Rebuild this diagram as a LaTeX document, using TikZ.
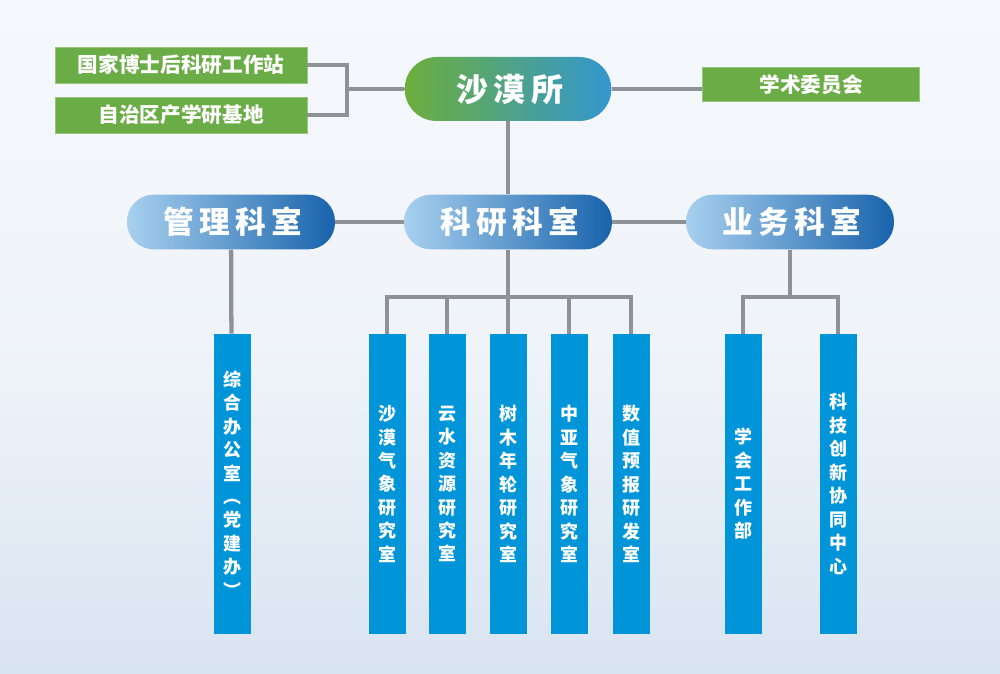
\documentclass[tikz,border=0pt]{standalone}
\usepackage{fontspec}
\usepackage{xcolor}
\usepackage{tikz}
\usetikzlibrary{positioning,calc}
\newfontfamily\cjk{Noto Sans CJK SC}
\newfontfamily\cjkwide{Noto Sans CJK SC}[LetterSpace=18]
\definecolor{linkgray}{HTML}{8E9296}
\definecolor{cGreen}{HTML}{6AAC45}
\definecolor{cHeadL}{HTML}{6DAE3C}
\definecolor{cHeadR}{HTML}{3397CF}
\definecolor{cDeptL}{HTML}{A8D0EF}
\definecolor{cDeptR}{HTML}{1863AC}
\definecolor{cLeaf}{HTML}{0095D8}
\definecolor{bgTop}{HTML}{F5F8FC}
\definecolor{bgBot}{HTML}{D9E4F1}

\begin{document}
\begin{tikzpicture}[x=0.75pt,y=-0.75pt,
  link/.style={draw=linkgray,line width=3.2pt},
  head/.style={rounded corners=24pt,left color=cHeadL,right color=cHeadR,minimum width=155pt,minimum height=48pt,text=white,font=\cjkwide\fontsize{24}{24}\selectfont\bfseries},
  dept/.style={rounded corners=20pt,left color=cDeptL,right color=cDeptR,minimum width=156pt,minimum height=41pt,text=white,font=\cjkwide\fontsize{23}{23}\selectfont\bfseries},
  base/.style={fill=cGreen,draw=cGreen!70!white,line width=0.6pt,minimum height=27pt,text=white,font=\cjk\fontsize{15.5}{15.5}\selectfont\bfseries},
  leaf/.style={fill=cLeaf,minimum width=27.75pt,minimum height=225pt,inner sep=0pt,text=white,align=center,font=\cjk\fontsize{13.5}{17.6}\selectfont\bfseries}]
  % background
  \shade[top color=bgTop,bottom color=bgBot,middle color=white!60!bgBot] (0,0) rectangle (1000,674);
  \useasboundingbox (0,0) rectangle (1000,674);

  % top level
  \node[head] (desert) at (508,89) {\hspace{3pt}沙漠所};
  \node[base,minimum width=189pt] (postdoc) at (181,65) {国家博士后科研工作站};
  \node[base,minimum width=189pt] (platform) at (181,115) {自治区产学研基地};
  \node[base,minimum width=163pt,minimum height=26pt] (academic) at (811,84.5) {学术委员会};
  \coordinate (jL) at (347,89);
  \draw[link] (postdoc.east) -| (jL);
  \draw[link] (platform.east) -| (jL);
  \draw[link] (jL) -- (desert.west);
  \draw[link] (desert.east) -- (desert.east -| academic.west);

  % departments
  \node[dept] (mgmt) at (231,222) {\hspace{3pt}管理科室};
  \node[dept] (rd) at (508,222) {\hspace{3pt}科研科室};
  \node[dept] (biz) at (790,222) {\hspace{3pt}业务科室};
  \draw[link] (desert) -- (rd);
  \draw[link] (mgmt) -- (rd);
  \draw[link] (rd) -- (biz);

  % offices and labs
  \foreach \cx/\nm/\txt in {
      232/office/{综\\合\\办\\公\\室\\︵\\党\\建\\办\\︶},
      387/meteo/{沙\\漠\\气\\象\\研\\究\\室},
      447/water/{云\\水\\资\\源\\研\\究\\室},
      508/ring/{树\\木\\年\\轮\\研\\究\\室},
      569/asia/{中\\亚\\气\\象\\研\\究\\室},
      631/nwp/{数\\值\\预\\报\\研\\发\\室},
      743/society/{学\\会\\工\\作\\部},
      838/innov/{科\\技\\创\\新\\协\\同\\中\\心}}{
    \node[leaf] (\nm) at (\cx,484) {\txt};
  }
  \draw[link] (mgmt) -- (office);
  \coordinate (busR) at (508,297);
  \coordinate (busB) at (790,297);
  \draw[link] (rd) -- (busR);
  \draw[link] (biz) -- (busB);
  \foreach \nm in {meteo,water,ring,asia,nwp}
    \draw[link] (busR) -| (\nm.north);
  \foreach \nm in {society,innov}
    \draw[link] (busB) -| (\nm.north);
\end{tikzpicture}
\end{document}
